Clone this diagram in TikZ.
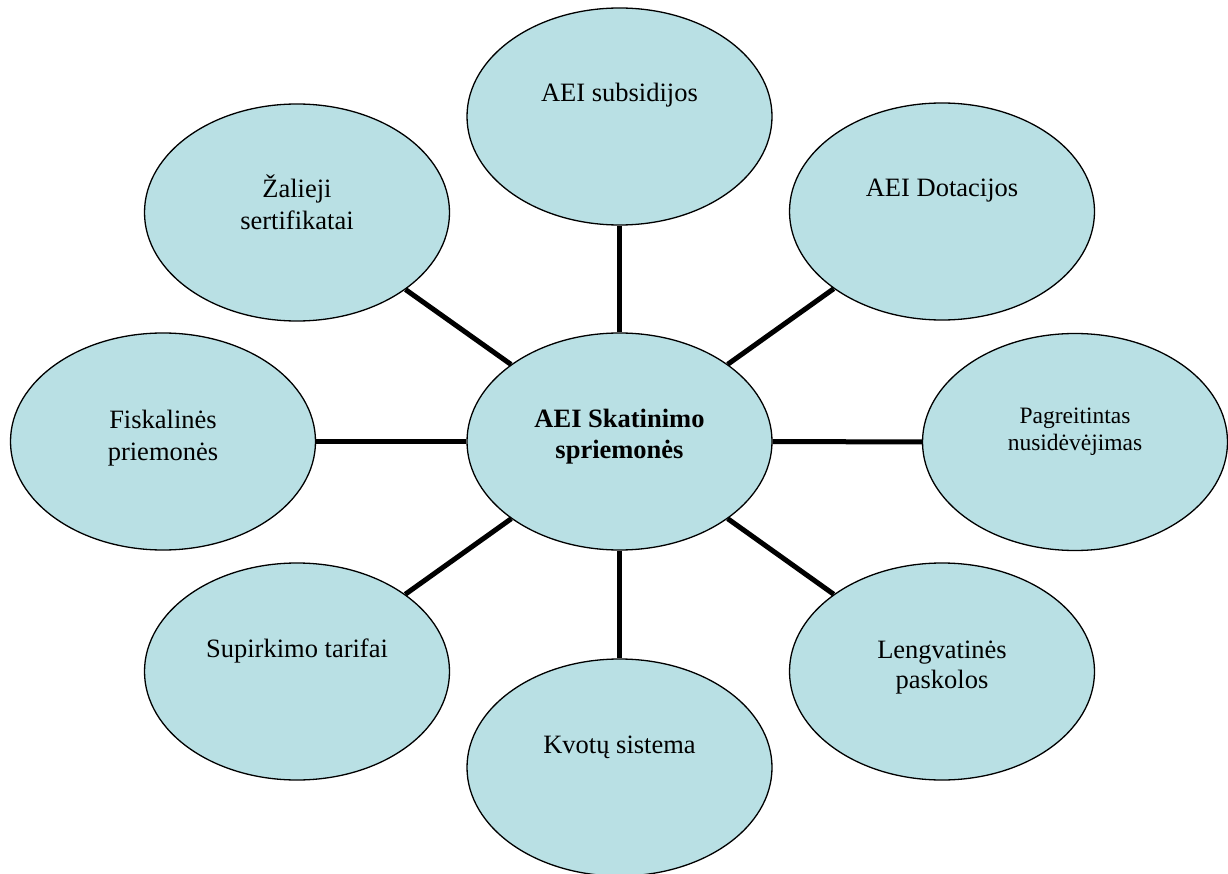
\documentclass[tikz,border=0pt]{standalone}
\usepackage{fontspec}
\setmainfont{Liberation Serif}
\usetikzlibrary{shapes.geometric}
\definecolor{bubblefill}{RGB}{185,224,228}
% two centred lines; the baseline of the box is that of the first line
\newcommand\twolines[2]{\begin{tabular}[t]{@{}c@{}}#1\\#2\end{tabular}}
\begin{document}
\begin{tikzpicture}[x=1pt,y=-1pt,
  bubble/.style={ellipse, draw=black, line width=1.3pt, fill=bubblefill,
    minimum width=305pt, minimum height=217pt, inner sep=0pt},
  link/.style={line width=5pt},
  lbl/.style={anchor=base, inner sep=0pt, text=black,
    font=\fontsize{26.5}{31}\selectfont}]
\useasboundingbox (0,0) rectangle (1228,874);

% ellipses
\node[bubble] (hub)  at (619.5,441.5) {};
\node[bubble] (subs) at (619.5,116.5) {};
\node[bubble] (dot)  at (942,211.5) {};
\node[bubble] (pagr) at (1075,442) {};
\node[bubble] (leng) at (942,671.5) {};
\node[bubble] (kvot) at (619.5,767.5) {};
\node[bubble] (sup)  at (297,671.5) {};
\node[bubble] (fisk) at (163,441.5) {};
\node[bubble] (zal)  at (297,212.5) {};

% spokes from the hub
\foreach \n in {subs,dot,pagr,leng,kvot,sup,fisk,zal}
  \draw[link] (hub) -- (\n);

% labels
\node[lbl, font=\fontsize{26.5}{31}\selectfont\bfseries] (hubT) at ([yshift=14.5pt]hub.center)
  {\twolines{AEI Skatinimo}{spriemonės}};
\node[lbl] (subsT) at ([yshift=14.5pt]subs.center) {AEI subsidijos};
\node[lbl] (dotT)  at ([yshift=14.5pt]dot.center) {AEI Dotacijos};
\node[lbl, font=\fontsize{23.5}{27}\selectfont] (pagrT) at ([yshift=19pt]pagr.center)
  {\twolines{Pagreitintas}{nusidėvėjimas}};
\node[lbl, font=\fontsize{26.5}{30}\selectfont] (lengT) at ([yshift=13.5pt]leng.center)
  {\twolines{Lengvatinės}{paskolos}};
\node[lbl] (kvotT) at ([yshift=14.5pt]kvot.center) {Kvotų sistema};
\node[lbl] (supT)  at ([yshift=14.5pt]sup.center) {Supirkimo tarifai};
\node[lbl, font=\fontsize{26.5}{32}\selectfont] (fiskT) at ([yshift=13.5pt]fisk.center)
  {\twolines{Fiskalinės}{priemonės}};
\node[lbl, font=\fontsize{26.5}{32}\selectfont] (zalT) at ([yshift=14.5pt]zal.center)
  {\twolines{Žalieji}{sertifikatai}};
\end{tikzpicture}
\end{document}
